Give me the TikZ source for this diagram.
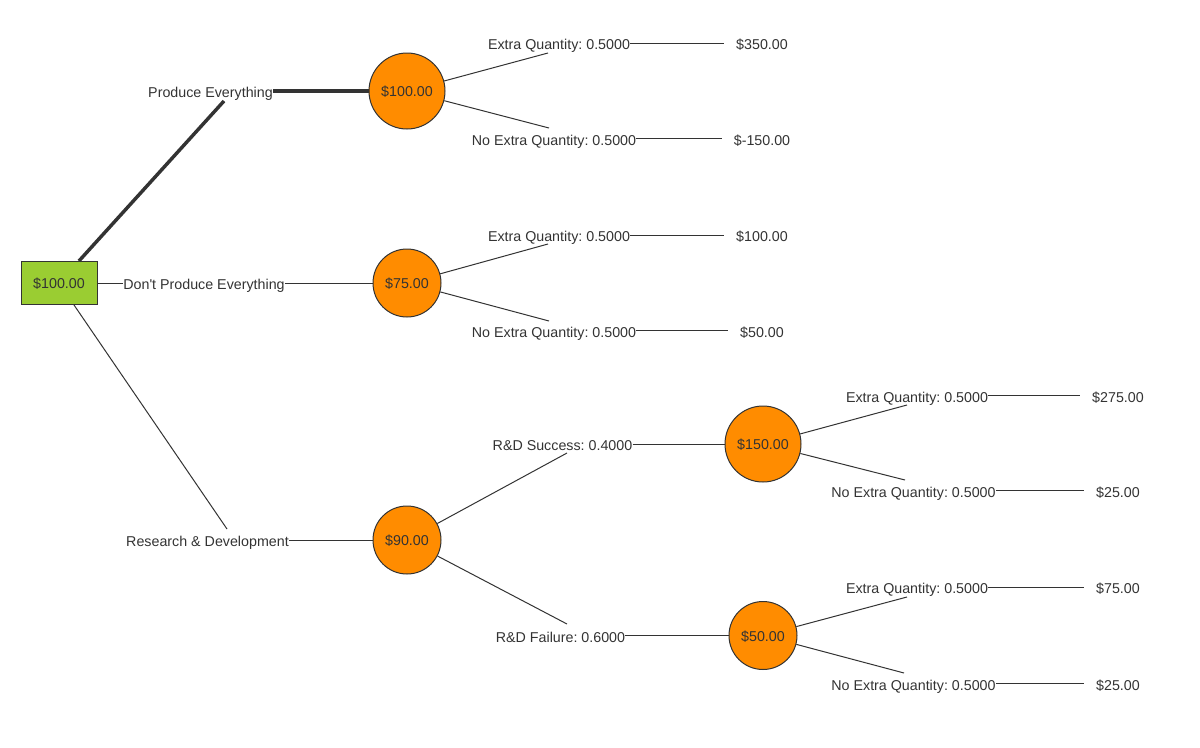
\documentclass[tikz,border=0pt]{standalone}
\usepackage{fontspec}
\setmainfont{Liberation Sans}
\frenchspacing
\definecolor{ink}{HTML}{333333}
\definecolor{chancefill}{HTML}{FF8C00}
\definecolor{decisfill}{HTML}{9ACD32}
\begin{document}
\begin{tikzpicture}[x=0.75pt,y=-0.75pt,
  every node/.style={font=\fontsize{10.7}{12}\selectfont, text=ink},
  lbl/.style={inner xsep=0pt, inner ysep=1pt, text height=10pt, text depth=0pt},
  val/.style={lbl, inner xsep=9pt},
  bigchance/.style={circle, draw=ink, line width=0.75pt, fill=chancefill, inner sep=0pt, minimum size=57pt, text height=8.6pt, text depth=0pt},
  smallchance/.style={bigchance, minimum size=51pt},
  decision/.style={rectangle, draw=ink, line width=0.75pt, fill=decisfill, minimum width=57pt, minimum height=32.25pt, inner sep=0pt, text height=8.6pt, text depth=0pt},
  branch/.style={draw=ink, line width=0.75pt},
  best/.style={draw=ink, line width=2.6pt}]
\useasboundingbox (0,0) rectangle (1200,747);

% nodes
\node[decision] (d0) at (59,283) {\$100.00};
\node[bigchance] (c1) at (407,91) {\$100.00};
\node[smallchance] (c2) at (407,283) {\$75.00};
\node[smallchance] (c3) at (407,540) {\$90.00};
\node[bigchance] (c4) at (763,444) {\$150.00};
\node[smallchance] (c5) at (763,635.5) {\$50.00};

% first-level labels
\node[lbl] (lPE) at (210.5,91) {Produce Everything};
\node[lbl] (lDP) at (204,283) {Don\textquotesingle t Produce Everything};
\node[lbl] (lRD) at (207.5,540) {Research \& Development};

% chance branch labels
\node[lbl] (e1a) at (559,43) {Extra Quantity: 0.5000};
\node[lbl] (n1a) at (554,138.5) {No Extra Quantity: 0.5000};
\node[lbl] (e2a) at (559,235) {Extra Quantity: 0.5000};
\node[lbl] (n2a) at (554,330.7) {No Extra Quantity: 0.5000};
\node[lbl] (sRD) at (562.5,444) {R\&D Success: 0.4000};
\node[lbl] (fRD) at (560.5,635.5) {R\&D Failure: 0.6000};
\node[lbl] (e4a) at (917,395.5) {Extra Quantity: 0.5000};
\node[lbl] (n4a) at (913.5,490.5) {No Extra Quantity: 0.5000};
\node[lbl] (e5a) at (917,587) {Extra Quantity: 0.5000};
\node[lbl] (n5a) at (913.5,683.5) {No Extra Quantity: 0.5000};

% terminal values
\node[val] (v1a) at (762,43) {\$350.00};
\node[val] (v1b) at (762,138.5) {\$-150.00};
\node[val] (v2a) at (762,235) {\$100.00};
\node[val] (v2b) at (762,330.7) {\$50.00};
\node[val] (v4a) at (1118,395.5) {\$275.00};
\node[val] (v4b) at (1118,490.5) {\$25.00};
\node[val] (v5a) at (1118,587) {\$75.00};
\node[val] (v5b) at (1118,683.5) {\$25.00};

% slant end points
\coordinate (p1) at (224,101);
\coordinate (p3) at (227,529);
\coordinate (q1a) at (548,53);
\coordinate (q1b) at (549,128);
\coordinate (q2a) at (548,244);
\coordinate (q2b) at (549,321);
\coordinate (q3a) at (567,453);
\coordinate (q3b) at (567,624);
\coordinate (q4a) at (907,405);
\coordinate (q4b) at (905,480);
\coordinate (q5a) at (907,597);
\coordinate (q5b) at (904,673);

% decision branches
\draw[best] (d0) -- (p1);
\draw[best] (lPE.east) -- (c1);
\draw[branch] (d0) -- (lDP.west);
\draw[branch] (lDP.east) -- (c2);
\draw[branch] (d0) -- (p3);
\draw[branch] (lRD.east) -- (c3);

% chance branches
\draw[branch] (c1) -- (q1a);
\draw[branch] (c1) -- (q1b);
\draw[branch] (e1a.east) -- (v1a.west);
\draw[branch] (n1a.east) -- (v1b.west);

\draw[branch] (c2) -- (q2a);
\draw[branch] (c2) -- (q2b);
\draw[branch] (e2a.east) -- (v2a.west);
\draw[branch] (n2a.east) -- (v2b.west);

\draw[branch] (c3) -- (q3a);
\draw[branch] (c3) -- (q3b);
\draw[branch] (sRD.east) -- (c4);
\draw[branch] (fRD.east) -- (c5);

\draw[branch] (c4) -- (q4a);
\draw[branch] (c4) -- (q4b);
\draw[branch] (e4a.east) -- (v4a.west);
\draw[branch] (n4a.east) -- (v4b.west);

\draw[branch] (c5) -- (q5a);
\draw[branch] (c5) -- (q5b);
\draw[branch] (e5a.east) -- (v5a.west);
\draw[branch] (n5a.east) -- (v5b.west);
\end{tikzpicture}
\end{document}
